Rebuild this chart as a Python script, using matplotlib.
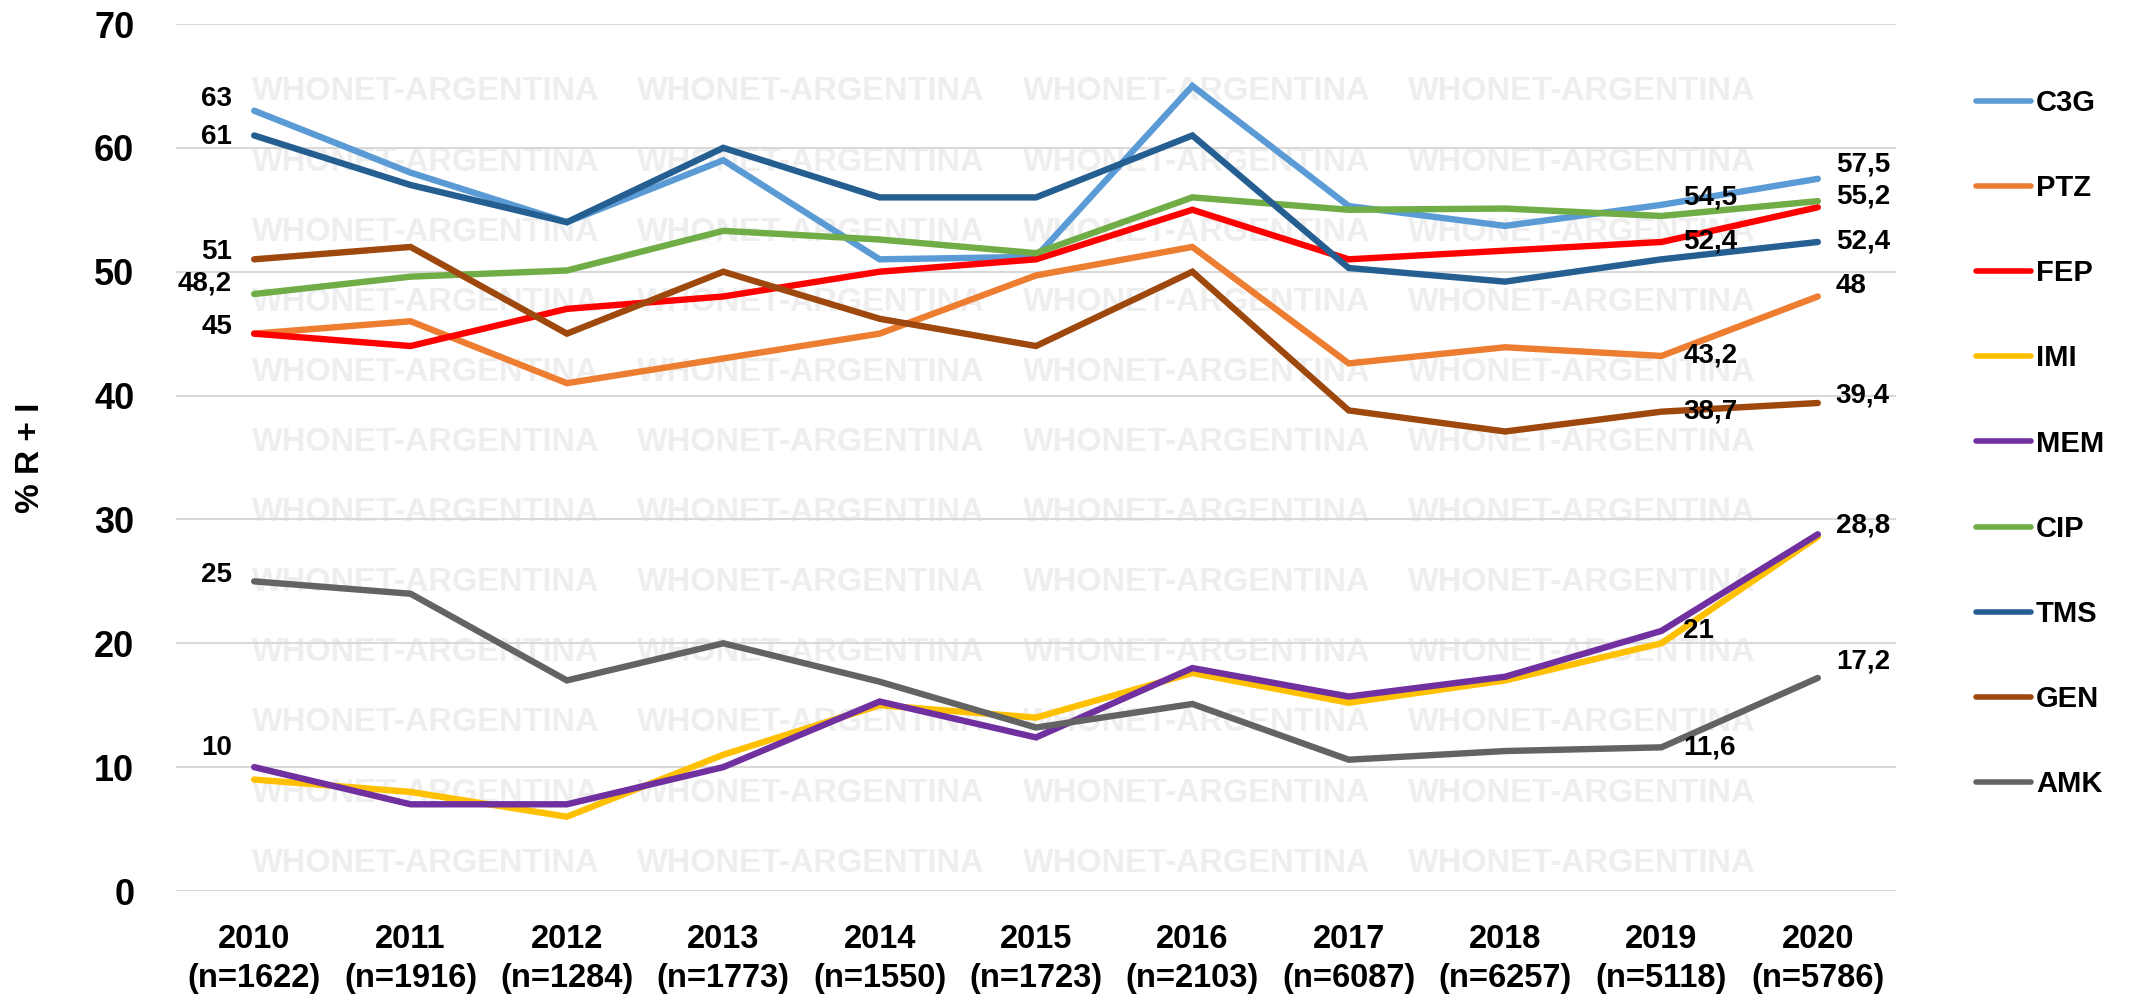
import matplotlib
matplotlib.use("Agg")
import matplotlib.pyplot as plt
from matplotlib.lines import Line2D

plt.rcParams['font.family'] = ['Liberation Sans', 'DejaVu Sans']
plt.rcParams['font.weight'] = 'bold'

years = ["2010", "2011", "2012", "2013", "2014", "2015", "2016", "2017", "2018", "2019", "2020"]
n_values = ["1622", "1916", "1284", "1773", "1550", "1723", "2103", "6087", "6257", "5118", "5786"]

C3G = [63, 58, 54, 59, 51, 51.2, 65, 55.3, 53.7, 55.4, 57.5]
PTZ = [45, 46, 41, 43, 45, 49.7, 52, 42.6, 43.9, 43.2, 48]
FEP = [45, 44, 47, 48, 50, 51, 55, 51, 51.7, 52.4, 55.2]
IMI = [9, 8, 6, 11, 15, 14, 17.6, 15.2, 17, 20, 28.6]
MEM = [10, 7, 7, 10, 15.3, 12.4, 18, 15.7, 17.3, 21, 28.8]
CIP = [48.2, 49.6, 50.1, 53.3, 52.6, 51.5, 56, 55, 55.1, 54.5, 55.7]
TMS = [61, 57, 54, 60, 56, 56, 61, 50.3, 49.2, 51, 52.4]
GEN = [51, 52, 45, 50, 46.2, 44, 50, 38.8, 37.1, 38.7, 39.4]
AMK = [25, 24, 17, 20, 16.9, 13.2, 15.1, 10.6, 11.3, 11.6, 17.2]

series_names = ["C3G", "PTZ", "FEP", "IMI", "MEM", "CIP", "TMS", "GEN", "AMK"]
series_values = [C3G, PTZ, FEP, IMI, MEM, CIP, TMS, GEN, AMK]
series_colors = ["#5B9BD5", "#ED7D31", "#FF0000", "#FFC000", "#7030A0",
                 "#70AD47", "#255E91", "#9E480E", "#636363"]

# data labels
labels_first = [("C3G", "63"), ("TMS", "61"), ("GEN", "51"), ("CIP", "48,2"),
                ("FEP", "45"), ("AMK", "25"), ("MEM", "10")]
labels_2019 = [("CIP", "54,5", 18), ("FEP", "52,4", 0), ("PTZ", "43,2", 0),
               ("GEN", "38,7", 0), ("MEM", "21", 0), ("AMK", "11,6", 0)]
labels_2020 = [("C3G", "57,5", 14), ("FEP", "55,2", 11), ("TMS", "52,4", 0),
               ("PTZ", "48", 10), ("GEN", "39,4", 8), ("MEM", "28,8", 9),
               ("AMK", "17,2", 16)]
first_dy = {"C3G": 12, "TMS": -2, "GEN": 7, "CIP": 11, "FEP": 7, "AMK": 6, "MEM": 19}

W, H = 2133, 1005
fig = plt.figure(figsize=(W / 100, H / 100), dpi=100)
ax = fig.add_axes([176 / W, 1 - 891 / H, (1896 - 176) / W, (891 - 24) / H])
ax.set_zorder(2)
ax.patch.set_alpha(0)

# watermark (behind the axes)
for row in range(12):
    yc = 92 + 70.1 * row
    for col in range(4):
        xl = 252 + 385.3 * col
        fig.text(xl / W, 1 - yc / H, "WHONET-ARGENTINA", fontsize=23.5,
                 fontweight='bold', color="#EEEEEE", ha='left', va='center',
                 zorder=0)

x = list(range(len(years)))
lookup = dict(zip(series_names, series_values))
for name, vals, col in zip(series_names, series_values, series_colors):
    ax.plot(x, vals, color=col, lw=4.6, label=name, solid_joinstyle='miter',
            solid_capstyle='round', zorder=3)

lab_kw = dict(fontsize=20, fontweight='bold', color='black',
              textcoords='offset pixels', va='center', zorder=5)
for name, txt in labels_first:
    ax.annotate(txt, (0, lookup[name][0]), xytext=(-22, first_dy[name]),
                ha='right', **lab_kw)
for name, txt, dy in labels_2019:
    ax.annotate(txt, (9, lookup[name][9]), xytext=(22, dy), ha='left', **lab_kw)
for name, txt, dy in labels_2020:
    ax.annotate(txt, (10, lookup[name][10]), xytext=(18, dy), ha='left', **lab_kw)

ax.set_xlim(-0.5, 10.5)
ax.set_ylim(0, 70)
ax.set_yticks(range(0, 71, 10))
ax.set_yticklabels([str(v) for v in range(0, 71, 10)], fontsize=26, fontweight='bold')
ax.set_xticks(x)
ax.set_xticklabels([f"{y}\n(n={n})" for y, n in zip(years, n_values)],
                   fontsize=23.5, fontweight='bold', linespacing=1.3)
ax.tick_params(axis='both', length=0)
ax.tick_params(axis='y', pad=30)
ax.tick_params(axis='x', pad=24)
ax.grid(axis='y', color='#D9D9D9', lw=1.5, zorder=1)
ax.set_axisbelow(True)
for s in ax.spines.values():
    s.set_visible(False)

ax.set_ylabel("% R + I", fontsize=24, fontweight='bold')
ax.yaxis.set_label_coords((46 - 176) / 1720, 0.5)

handles = [Line2D([0], [0], color=c, lw=4, solid_capstyle='round') for c in series_colors]
leg = fig.legend(handles, series_names, loc='upper left',
                 bbox_to_anchor=(1976 / W, 1 - 89 / H), frameon=False,
                 fontsize=21, handlelength=1.9, handletextpad=0.15,
                 labelspacing=1.96, borderaxespad=0, borderpad=0)
for t in leg.get_texts():
    t.set_fontweight('bold')

fig.savefig("out.png", dpi=100)
